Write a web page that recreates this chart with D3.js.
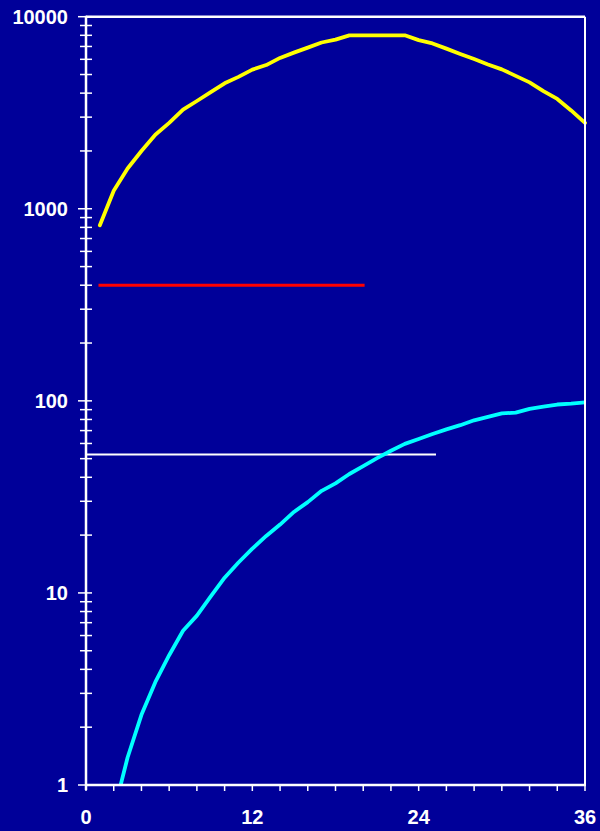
<!DOCTYPE html>
<html>
<head>
<meta charset="utf-8">
<script src="https://cdn.jsdelivr.net/npm/d3@7"></script>
<style>
  html, body { margin: 0; padding: 0; background: #000099; }
  svg { display: block; }
</style>
</head>
<body>
<svg id="chart" width="600" height="831"></svg>
<script>
// ---- Data ----
const yellowMonths = [1,2,3,4,5,6,7,8,9,10,11,12,13,14,15,16,17,18,19,20,21,22,23,24,25,26,27,28,29,30,31,32,33,34,35,36];
const yellowValues = [820,1240,1620,2000,2430,2800,3280,3640,4050,4500,4860,5300,5600,6100,6500,6900,7340,7600,8000,8000,8000,8000,8000,7550,7260,6820,6400,6020,5640,5320,4920,4550,4100,3730,3250,2800];

const cyanMonths = [2.5,3,4,5,6,7,8,9,10,11,12,13,14,15,16,17,18,19,20,21,22,23,24,25,26,27,28,29,30,31,32,33,34,35,36];
const cyanValues = [1,1.39,2.32,3.43,4.74,6.35,7.62,9.6,12.0,14.4,17.0,19.8,22.7,26.4,29.7,34.0,37.2,41.6,45.7,50.3,55.0,59.7,63.3,67.2,71.0,74.7,79.2,82.5,86.0,86.9,90.8,93.3,95.7,96.7,98.1];

const redMonths = [0.9, 20.1];
const redValues = [400, 400];

const whiteMonths = [0, 25.25];
const whiteValues = [52.5, 52.5];

const xTickLabels = [0, 12, 24, 36];
const xMinorTicks = [0,2,4,6,8,10,12,14,16,18,20,22,24,26,28,30,32,34,36];
const yTickLabels = [1, 10, 100, 1000, 10000];

// ---- Layout ----
const pL = 86, pR = 585, pT = 16.7, pB = 785;
const svg = d3.select("#chart");

const x = d3.scaleLinear().domain([0, 36]).range([pL, pR]);
const y = d3.scaleLog().domain([1, 10000]).range([pB, pT]);

svg.append("rect").attr("width", 600).attr("height", 831).attr("fill", "#000099");

const line = d3.line().x(d => x(d[0])).y(d => y(d[1]));
const zip = (a, b) => a.map((v, i) => [v, b[i]]);

// Series
svg.append("path").datum(zip(whiteMonths, whiteValues))
  .attr("d", line).attr("fill", "none").attr("stroke", "#ffffff").attr("stroke-width", 2);
svg.append("path").datum(zip(redMonths, redValues))
  .attr("d", line).attr("fill", "none").attr("stroke", "#ff0000").attr("stroke-width", 3);
svg.append("path").datum(zip(yellowMonths, yellowValues))
  .attr("d", line).attr("fill", "none").attr("stroke", "#ffff00").attr("stroke-width", 3.8)
  .attr("stroke-linejoin", "round").attr("stroke-linecap", "round");

svg.append("clipPath").attr("id", "clip").append("rect")
  .attr("x", pL).attr("y", pT).attr("width", pR - pL).attr("height", pB - pT);
svg.append("path").datum(zip(cyanMonths, cyanValues))
  .attr("clip-path", "url(#clip)")
  .attr("d", line).attr("fill", "none").attr("stroke", "#00ffff").attr("stroke-width", 3.8)
  .attr("stroke-linejoin", "round").attr("stroke-linecap", "round");

// Frame
const axisColor = "#ffffff";
svg.append("line").attr("x1", pL).attr("x2", pR).attr("y1", pT).attr("y2", pT)
  .attr("stroke", axisColor).attr("stroke-width", 2.5);
svg.append("line").attr("x1", pR).attr("x2", pR).attr("y1", pT).attr("y2", pB)
  .attr("stroke", axisColor).attr("stroke-width", 2);
svg.append("line").attr("x1", pL).attr("x2", pR + 1).attr("y1", pB).attr("y2", pB)
  .attr("stroke", axisColor).attr("stroke-width", 2.5);
svg.append("line").attr("x1", pL).attr("x2", pL).attr("y1", pT - 1).attr("y2", pB + 5)
  .attr("stroke", axisColor).attr("stroke-width", 2.5);

// Y ticks: majors and minors (2..9 per decade)
const yMinor = [];
for (let d = 0; d < yTickLabels.length - 1; d++) {
  for (let k = 2; k <= 9; k++) yMinor.push(yTickLabels[d] * k);
}
svg.selectAll(".yminor").data(yMinor).enter().append("line")
  .attr("x1", pL - 6).attr("x2", pL + 6)
  .attr("y1", d => y(d)).attr("y2", d => y(d))
  .attr("stroke", axisColor).attr("stroke-width", 1.5);
svg.selectAll(".ymajor").data(yTickLabels).enter().append("line")
  .attr("x1", pL - 8).attr("x2", pL + 6)
  .attr("y1", d => y(d)).attr("y2", d => y(d))
  .attr("stroke", axisColor).attr("stroke-width", 1.5);
svg.selectAll(".ylab").data(yTickLabels).enter().append("text")
  .attr("x", pL - 18).attr("y", d => y(d)).attr("dy", "0.36em")
  .attr("text-anchor", "end")
  .attr("font-family", "Liberation Sans, Arial, sans-serif")
  .attr("font-weight", "bold").attr("font-size", 20)
  .attr("fill", "#ffffff")
  .text(d => d);

// X ticks
svg.selectAll(".xminor").data(xMinorTicks).enter().append("line")
  .attr("x1", d => x(d)).attr("x2", d => x(d))
  .attr("y1", pB).attr("y2", pB + 6)
  .attr("stroke", axisColor).attr("stroke-width", 1.5);
svg.selectAll(".xlab").data(xTickLabels).enter().append("text")
  .attr("x", d => x(d)).attr("y", 824)
  .attr("text-anchor", "middle")
  .attr("font-family", "Liberation Sans, Arial, sans-serif")
  .attr("font-weight", "bold").attr("font-size", 20)
  .attr("fill", "#ffffff")
  .text(d => d);
</script>
</body>
</html>
